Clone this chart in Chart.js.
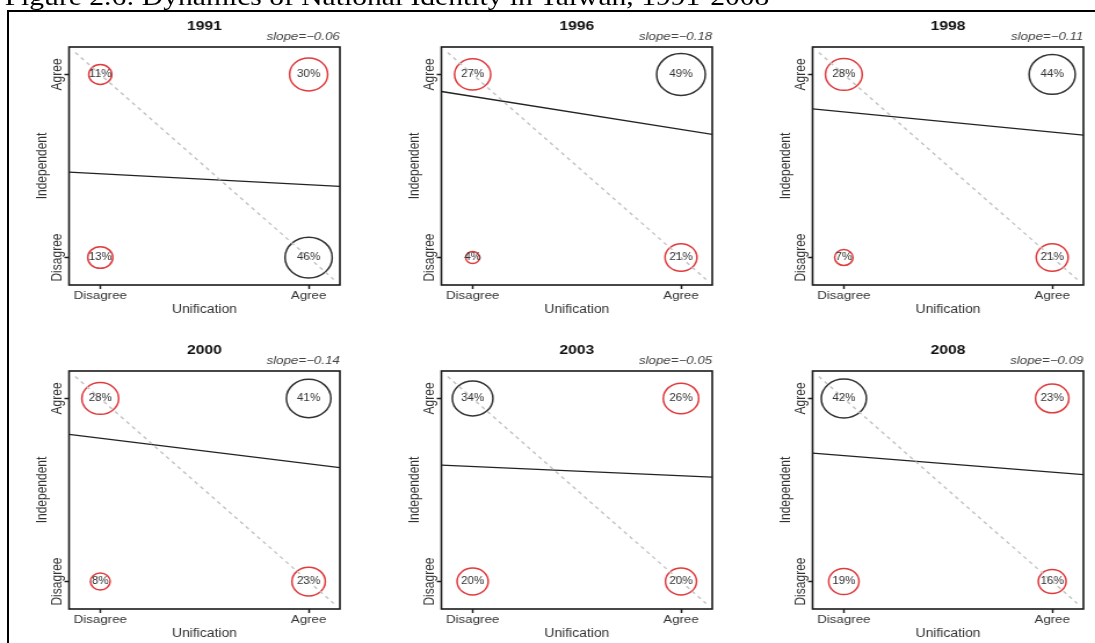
<!DOCTYPE html>
<html>
<head>
<meta charset="utf-8">
<script src="https://cdn.jsdelivr.net/npm/chart.js"></script>
<style>
  html, body { margin: 0; padding: 0; background: #fff; width: 1095px; height: 643px; overflow: hidden; }
  #frame { position: absolute; left: 7px; top: 10px; width: 1200px; height: 700px;
           border-left: 2px solid #000; border-top: 2px solid #000; }
  /* the source figure is stretched sideways, so the whole grid is too */
  #grid { position: absolute; left: 0; top: 0; width: 960px; height: 643px;
          transform: scaleX(1.16); transform-origin: 0 0; }
  #grid canvas { position: absolute; }
  #caption { position: absolute; left: 4px; top: -16px; white-space: nowrap; color: #000;
             font: 25.5px "Liberation Serif", "Times New Roman", serif; line-height: 26px; }
</style>
</head>
<body>
<div id="frame"></div>
<div id="grid">
  <div id="caption">Figure 2.6: Dynamics of National Identity in Taiwan, 1991-2008</div>
</div>
<script>
// survey years, one panel each
const years = ['1991', '1996', '1998', '2000', '2003', '2008'];
const unifLabels = ['Disagree', 'Agree'];   // x axis: Unification
const indepLabels = ['Disagree', 'Agree'];  // y axis: Independent

// percent of respondents in each cell (unification / independence)
const disAgr = [11, 27, 28, 28, 34, 42];   // unif Disagree, indep Agree
const agrAgr = [30, 49, 44, 41, 26, 23];   // unif Agree,    indep Agree
const disDis = [13, 4, 7, 8, 20, 19];      // unif Disagree, indep Disagree
const agrDis = [46, 21, 21, 23, 20, 16];   // unif Agree,    indep Disagree

// fitted line: independence on unification
const slopes = [-0.06, -0.18, -0.11, -0.14, -0.05, -0.09];
const intercepts = [0.458, 0.88, 0.795, 0.783, 0.628, 0.688];

const cells = [
  { unif: 'Disagree', indep: 'Agree', pct: disAgr },
  { unif: 'Agree', indep: 'Agree', pct: agrAgr },
  { unif: 'Disagree', indep: 'Disagree', pct: disDis },
  { unif: 'Agree', indep: 'Disagree', pct: agrDis },
];

const axisMin = -0.15, axisMax = 1.15;
const diagSpan = [-0.12, 1.12];   // y = 1 - x guide
const red = '#e03b3d';

Chart.defaults.font.family = '"Liberation Sans", Arial, sans-serif';
Chart.defaults.color = '#333';

// box round the plot area
const frameBox = {
  id: 'frameBox',
  afterDatasetsDraw(chart) {
    const { ctx, chartArea: a } = chart;
    ctx.save();
    ctx.strokeStyle = '#1a1a1a';
    ctx.lineWidth = 1.6;
    ctx.strokeRect(a.left, a.top, a.right - a.left, a.bottom - a.top);
    ctx.restore();
  }
};

// percentages inside the circles
const cellText = {
  id: 'cellText',
  afterDatasetsDraw(chart) {
    const ctx = chart.ctx;
    const ds = chart.data.datasets[2];
    const meta = chart.getDatasetMeta(2);
    ctx.save();
    ctx.font = '10px "Liberation Sans", Arial, sans-serif';
    ctx.fillStyle = '#333';
    ctx.textAlign = 'center';
    ctx.textBaseline = 'middle';
    meta.data.forEach((pt, k) => ctx.fillText(ds.pcts[k] + '%', pt.x, pt.y));
    ctx.restore();
  }
};

// y tick labels are vertical, as in R
const yTickText = {
  id: 'yTickText',
  afterDraw(chart) {
    const ctx = chart.ctx;
    const s = chart.scales.y;
    ctx.save();
    ctx.font = '12px "Liberation Sans", Arial, sans-serif';
    ctx.fillStyle = '#333';
    ctx.textAlign = 'center';
    ctx.textBaseline = 'middle';
    s.ticks.forEach(t => {
      ctx.save();
      ctx.translate(s.right - 9.5, s.getPixelForValue(t.value));
      ctx.rotate(-Math.PI / 2);
      ctx.fillText(indepLabels[t.value], 0, 0);
      ctx.restore();
    });
    ctx.restore();
  }
};

const gridEl = document.getElementById('grid');

years.forEach((year, i) => {
  const canvas = document.createElement('canvas');
  canvas.width = 321;
  canvas.height = 306;
  canvas.style.left = (i % 3) * 320.7 + 'px';
  canvas.style.top = (i < 3 ? 12 : 336) + 'px';
  gridEl.appendChild(canvas);

  const pcts = cells.map(c => c.pct[i]);
  const peak = Math.max(...pcts);

  new Chart(canvas, {
    type: 'scatter',
    data: {
      datasets: [
        {
          type: 'line',
          data: diagSpan.map(x => ({ x: x, y: 1 - x })),
          borderColor: '#c2c2c2',
          borderDash: [3.5, 3.5],
          borderWidth: 1.4,
          pointRadius: 0,
          fill: false
        },
        {
          type: 'line',
          data: [axisMin, axisMax].map(x => ({ x: x, y: intercepts[i] + slopes[i] * x })),
          borderColor: '#222',
          borderWidth: 1.3,
          pointRadius: 0,
          fill: false
        },
        {
          data: cells.map(c => ({ x: unifLabels.indexOf(c.unif), y: indepLabels.indexOf(c.indep) })),
          pcts: pcts,
          pointRadius: ctx => 3 * Math.sqrt(pcts[ctx.dataIndex]),
          pointBackgroundColor: 'rgba(0,0,0,0)',
          pointBorderColor: ctx => pcts[ctx.dataIndex] === peak ? '#333' : red,
          pointBorderWidth: 1.5
        }
      ]
    },
    options: {
      responsive: false,
      animation: false,
      events: [],
      layout: { padding: { left: 29, right: 28, top: 0, bottom: 0 } },
      plugins: {
        legend: { display: false },
        tooltip: { enabled: false },
        title: {
          display: true, text: year, fullSize: false, color: '#111',
          font: { size: 13.5, weight: 'bold', lineHeight: 0.8 },
          padding: { top: 8.6, bottom: 0 }
        },
        subtitle: {
          display: true, text: 'slope=' + slopes[i].toFixed(2).replace('-', '\u2212'),
          align: 'end', fullSize: false, color: '#444',
          font: { size: 11.5, style: 'italic', lineHeight: 1 },
          padding: { top: 0, bottom: 4.1 }
        }
      },
      scales: {
        x: {
          type: 'linear', min: axisMin, max: axisMax,
          afterBuildTicks: s => { s.ticks = unifLabels.map((_, k) => ({ value: k })); },
          afterFit: s => { s.height = 33; },
          ticks: { callback: v => unifLabels[v], font: { size: 11.5 }, color: '#333', padding: 0, maxRotation: 0, autoSkip: false },
          grid: { drawOnChartArea: false, drawTicks: true, tickLength: 4, tickColor: '#222', tickWidth: 1.5 },
          border: { display: false },
          title: { display: true, text: 'Unification', font: { size: 12 }, color: '#333', padding: { top: 0, bottom: 1 } }
        },
        y: {
          type: 'linear', min: axisMin, max: axisMax,
          afterBuildTicks: s => { s.ticks = indepLabels.map((_, k) => ({ value: k })); },
          afterFit: s => { s.width = 30.5; },
          ticks: { display: false },
          grid: { drawOnChartArea: false, drawTicks: true, tickLength: 4, tickColor: '#222', tickWidth: 1.5 },
          border: { display: false },
          title: { display: true, text: 'Independent', font: { size: 12 }, color: '#333', padding: { top: 0, bottom: 0 } }
        }
      }
    },
    plugins: [frameBox, cellText, yTickText]
  });
});
</script>
</body>
</html>
